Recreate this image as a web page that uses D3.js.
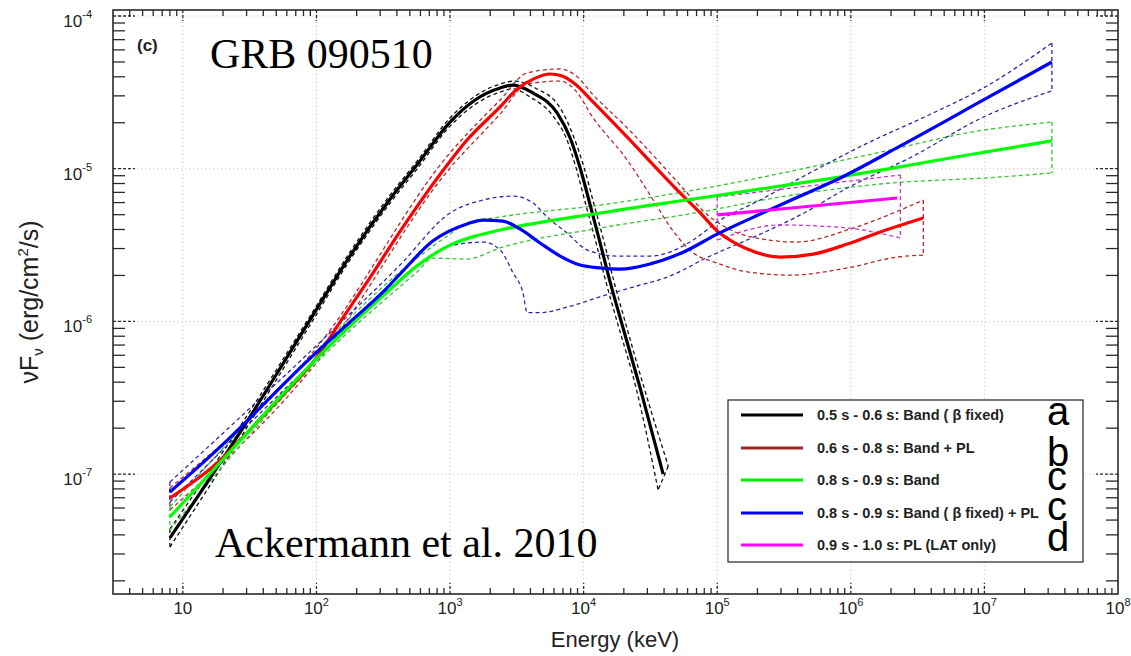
<!DOCTYPE html>
<html>
<head>
<meta charset="utf-8">
<script src="https://cdn.jsdelivr.net/npm/d3@7"></script>
<style>
  body { margin: 0; background: #fff; }
  svg { display: block; }
  .sans { font-family: "Liberation Sans", Arial, Helvetica, sans-serif; }
  .serif { font-family: "Liberation Serif", "Times New Roman", serif; }
</style>
</head>
<body>
<svg id="chart" width="1131" height="656"></svg>
<script>
// Axis limits (keV, erg/cm^2/s)
const xLimits = [3, 1e8];
const yLimits = [1.64e-8, 1.095e-4];
const xTickExponents = [1, 2, 3, 4, 5, 6, 7, 8];
const yTickExponents = [-7, -6, -5, -4];

// 0.5 s - 0.6 s : Band (beta fixed)
const blackE  = [8, 28.1, 89.4, 178, 356, 566, 1000, 1540, 2370, 2970, 4190, 6330, 7930, 9420, 11200, 13300, 15800, 18800, 26500, 39400];
const blackF  = [3.82e-8, 2.0e-7, 1.02e-6, 2.68e-6, 6.34e-6, 1.06e-5, 2.02e-5, 2.82e-5, 3.38e-5, 3.53e-5, 3.13e-5, 2.32e-5, 1.59e-5, 1.01e-5, 5.78e-6, 3.26e-6, 1.81e-6, 1.05e-6, 3.66e-7, 1.0e-7];
const blackUpE = [8, 28.1, 89.4, 178, 356, 566, 1000, 2370, 3070, 4340, 6670, 8490, 10100, 12000, 14300, 16900, 20100, 28400, 43000];
const blackUpF = [4.37e-8, 2.19e-7, 1.08e-6, 2.84e-6, 6.73e-6, 1.12e-5, 2.15e-5, 3.59e-5, 3.75e-5, 3.38e-5, 2.50e-5, 1.59e-5, 1.01e-5, 5.78e-6, 3.26e-6, 1.81e-6, 1.05e-6, 3.66e-7, 1.13e-7];
const blackLoE = [8, 28.1, 89.4, 178, 356, 566, 1000, 2370, 2970, 3970, 5910, 7400, 8790, 10400, 12400, 14700, 17500, 24700, 36100];
const blackLoF = [3.33e-8, 1.83e-7, 9.46e-7, 2.52e-6, 5.96e-6, 9.96e-6, 1.90e-5, 3.18e-5, 3.33e-5, 2.95e-5, 2.21e-5, 1.59e-5, 1.01e-5, 5.78e-6, 3.26e-6, 1.81e-6, 1.05e-6, 3.66e-7, 7.87e-8];

// 0.6 s - 0.8 s : Band + PL
const redE  = [8, 18, 31.8, 56.1, 101, 150, 239, 444, 1000, 1340, 2370, 3180, 4190, 5610, 6900, 8630, 11800, 21200, 33200, 50100, 74600, 1.0e5, 1.32e5, 1.68e5, 2.96e5, 5.24e5, 9.42e5, 1.66e6, 3.49e6];
const redF  = [6.97e-8, 1.18e-7, 1.95e-7, 3.30e-7, 5.85e-7, 9.9e-7, 1.81e-6, 4.15e-6, 1.12e-5, 1.54e-5, 2.54e-5, 3.33e-5, 3.86e-5, 4.17e-5, 4.05e-5, 3.59e-5, 2.73e-5, 1.61e-5, 1.06e-5, 7.26e-6, 5.13e-6, 3.91e-6, 3.31e-6, 2.98e-6, 2.64e-6, 2.76e-6, 3.21e-6, 3.85e-6, 4.75e-6];
const redUpE = [8, 101, 1000, 2370, 3780, 6670, 8630, 11800, 21200, 37400, 59600, 78500, 1.05e5, 1.68e5, 3.97e5, 9.42e5, 2.08e6, 3.49e6];
const redUpF = [8.11e-8, 6.79e-7, 1.27e-5, 2.82e-5, 4.24e-5, 4.50e-5, 4.11e-5, 3.04e-5, 1.85e-5, 1.09e-5, 6.93e-6, 5.28e-6, 4.35e-6, 3.62e-6, 3.31e-6, 3.97e-6, 5.13e-6, 6.24e-6];
const redLoE = [8, 101, 1000, 2370, 3780, 6670, 8630, 11800, 21200, 33200, 44500, 66100, 1.0e5, 1.68e5, 3.52e5, 9.42e5, 2.23e6, 3.49e6];
const redLoF = [5.82e-8, 5.42e-7, 1.01e-5, 2.28e-5, 3.59e-5, 3.75e-5, 3.27e-5, 2.15e-5, 1.14e-5, 6.24e-6, 4.15e-6, 2.81e-6, 2.41e-6, 2.11e-6, 2.01e-6, 2.24e-6, 2.64e-6, 2.72e-6];

// 0.8 s - 0.9 s : Band
const greenE  = [8, 18, 31.8, 56.1, 101, 178, 315, 566, 1000, 1540, 2370, 13300, 74600, 2.37e5, 7.40e5, 2.35e6, 7.46e6, 3.2e7];
const greenF  = [5.24e-8, 1.13e-7, 1.95e-7, 3.35e-7, 5.75e-7, 9.33e-7, 1.47e-6, 2.31e-6, 3.16e-6, 3.62e-6, 3.97e-6, 5.13e-6, 6.43e-6, 7.48e-6, 8.69e-6, 1.03e-5, 1.23e-5, 1.52e-5];
const greenUpE = [8, 101, 566, 1000, 1340, 2370, 13300, 74600, 1.33e6, 9.84e6, 3.2e7];
const greenUpF = [6.09e-8, 6.50e-7, 2.60e-6, 3.73e-6, 4.41e-6, 4.83e-6, 5.78e-6, 7.36e-6, 1.23e-5, 1.79e-5, 2.02e-5];
const greenLoE = [8, 101, 566, 746, 1340, 2370, 13300, 74600, 2.96e5, 1.66e6, 1.32e7, 3.2e7];
const greenLoF = [4.31e-8, 5.42e-7, 2.11e-6, 2.60e-6, 2.56e-6, 3.03e-6, 4.09e-6, 5.20e-6, 6.53e-6, 7.94e-6, 8.83e-6, 9.37e-6];

// 0.8 s - 0.9 s : Band (beta fixed) + PL
const blueE  = [8, 18, 31.8, 56.1, 101, 178, 315, 422, 746, 1340, 1770, 2490, 3340, 4720, 6670, 9420, 13300, 18800, 31500, 55600, 1.0e5, 2.10e5, 4.19e5, 8.34e5, 2.35e6, 9.84e6, 3.2e7];
const blueF  = [7.64e-8, 1.44e-7, 2.33e-7, 3.84e-7, 6.31e-7, 9.9e-7, 1.56e-6, 2.04e-6, 3.37e-6, 4.35e-6, 4.61e-6, 4.54e-6, 4.03e-6, 3.26e-6, 2.68e-6, 2.34e-6, 2.24e-6, 2.20e-6, 2.38e-6, 2.84e-6, 3.73e-6, 5.05e-6, 6.62e-6, 8.69e-6, 1.41e-5, 2.82e-5, 5.0e-5];
const blueUpE = [8, 101, 422, 1000, 1770, 2970, 4190, 5330, 7520, 10600, 17800, 31500, 66100, 1.0e5, 2.10e5, 4.19e5, 1.33e6, 4.15e6, 9.84e6, 3.2e7];
const blueUpF = [8.87e-8, 7.0e-7, 2.34e-6, 5.13e-6, 6.24e-6, 6.62e-6, 5.96e-6, 4.83e-6, 3.79e-6, 2.94e-6, 2.68e-6, 2.68e-6, 3.41e-6, 4.48e-6, 6.24e-6, 8.69e-6, 1.47e-5, 2.32e-5, 3.38e-5, 6.65e-5];
const blueLoE = [8, 101, 422, 1000, 1770, 2370, 2970, 3520, 3780, 4720, 7520, 13300, 23500, 42200, 88700, 2.10e5, 4.19e5, 9.42e5, 2.94e6, 9.84e6, 3.2e7];
const blueLoF = [6.56e-8, 5.75e-7, 1.87e-6, 3.12e-6, 3.31e-6, 2.94e-6, 2.07e-6, 1.53e-6, 1.14e-6, 1.14e-6, 1.24e-6, 1.45e-6, 1.68e-6, 1.95e-6, 2.68e-6, 3.73e-6, 4.98e-6, 7.48e-6, 1.21e-5, 2.18e-5, 3.23e-5];

// 0.9 s - 1.0 s : PL (LAT only)
const magentaE  = [1.0e5, 2.23e6];
const magentaF  = [4.98e-6, 6.43e-6];
const magentaUpE = [1.0e5, 2.35e6];
const magentaUpF = [6.53e-6, 9.1e-6];
const magentaLoE = [1.0e5, 2.96e5, 9.42e5, 2.35e6];
const magentaLoF = [3.41e-6, 4.28e-6, 4.09e-6, 3.52e-6];

const legendLabels = [
  "0.5 s - 0.6 s: Band ( \u03B2 fixed)",
  "0.6 s - 0.8 s: Band + PL",
  "0.8 s - 0.9 s: Band",
  "0.8 s - 0.9 s: Band ( \u03B2 fixed) + PL",
  "0.9 s - 1.0 s: PL (LAT only)"
];
const panelLetters = ["a", "b", "c", "c", "d"];

const zip = (E, F) => E.map((e, i) => [e, F[i]]);

const series = [
  { label: legendLabels[0], color: "#000000", dashColor: "#111111", legendColor: "#000000",
    main: zip(blackE, blackF), up: zip(blackUpE, blackUpF), lo: zip(blackLoE, blackLoF) },
  { label: legendLabels[1], color: "#ff0000", dashColor: "#b8282a", legendColor: "#9e2a2a",
    main: zip(redE, redF), up: zip(redUpE, redUpF), lo: zip(redLoE, redLoF) },
  { label: legendLabels[2], color: "#00ff00", dashColor: "#35c435", legendColor: "#00f000",
    main: zip(greenE, greenF), up: zip(greenUpE, greenUpF), lo: zip(greenLoE, greenLoF) },
  { label: legendLabels[3], color: "#0000ff", dashColor: "#2e2aa8", legendColor: "#0000ff",
    main: zip(blueE, blueF), up: zip(blueUpE, blueUpF), lo: zip(blueLoE, blueLoF) },
  { label: legendLabels[4], color: "#ff00ff", dashColor: "#c936c9", legendColor: "#ff00ff",
    main: zip(magentaE, magentaF), up: zip(magentaUpE, magentaUpF), lo: zip(magentaLoE, magentaLoF) }
];

const svg = d3.select("#chart");
const frame = { left: 113, right: 1118, top: 10, bottom: 594 };

const x = d3.scaleLog().domain(xLimits).range([frame.left, frame.right]);
const y = d3.scaleLog().domain(yLimits).range([frame.bottom, frame.top]);

svg.append("rect").attr("width", 1131).attr("height", 656).attr("fill", "#fff");

svg.append("defs").append("clipPath").attr("id", "plot-clip")
  .append("rect")
  .attr("x", frame.left).attr("y", frame.top)
  .attr("width", frame.right - frame.left).attr("height", frame.bottom - frame.top);

// dotted grid at the decades
const grid = svg.append("g").attr("stroke", "#bcbcbc").attr("stroke-width", 1).attr("stroke-dasharray", "1,3");
grid.selectAll("line.gx").data(xTickExponents.filter(e => e < 8).map(e => Math.pow(10, e))).join("line")
  .attr("class", "gx")
  .attr("x1", d => x(d)).attr("x2", d => x(d))
  .attr("y1", frame.top).attr("y2", frame.bottom);
grid.selectAll("line.gy").data(yTickExponents.map(e => Math.pow(10, e))).join("line")
  .attr("class", "gy")
  .attr("x1", frame.left).attr("x2", frame.right)
  .attr("y1", d => y(d)).attr("y2", d => y(d));

// tick marks (inward on all four sides)
const isDecade = v => Math.abs(Math.log10(v) - Math.round(Math.log10(v))) < 1e-9;
const xMinor = x.ticks(40).filter(v => !isDecade(v) && v > xLimits[0] && v < xLimits[1]);
const yMinor = y.ticks(40).filter(v => !isDecade(v) && v > yLimits[0] && v < yLimits[1]);
const xMajor = xTickExponents.filter(e => e < 8).map(e => Math.pow(10, e));
const yMajor = yTickExponents.map(e => Math.pow(10, e));

const ticks = svg.append("g").attr("stroke", "#2a2a2a").attr("stroke-width", 1.3);
[[frame.bottom, -1], [frame.top, 1]].forEach(([y0, dir]) => {
  ticks.append("g").selectAll("line").data(xMinor).join("line")
    .attr("x1", d => x(d)).attr("x2", d => x(d))
    .attr("y1", y0).attr("y2", y0 + dir * 6);
  ticks.append("g").attr("stroke-dasharray", "3,2").selectAll("line").data(xMajor).join("line")
    .attr("x1", d => x(d)).attr("x2", d => x(d))
    .attr("y1", y0).attr("y2", y0 + dir * 11);
});
[[frame.left, 1], [frame.right, -1]].forEach(([x0, dir]) => {
  ticks.append("g").selectAll("line").data(yMinor).join("line")
    .attr("y1", d => y(d)).attr("y2", d => y(d))
    .attr("x1", x0).attr("x2", x0 + dir * 12);
  ticks.append("g").attr("stroke-dasharray", "3,2").selectAll("line").data(yMajor).join("line")
    .attr("y1", d => y(d)).attr("y2", d => y(d))
    .attr("x1", x0).attr("x2", x0 + dir * 22);
});

// spectra: dashed error contours, then best-fit curves
const curve = d3.line().x(d => x(d[0])).y(d => y(d[1])).curve(d3.curveMonotoneX);
const straight = d3.line().x(d => x(d[0])).y(d => y(d[1]));
const plot = svg.append("g").attr("clip-path", "url(#plot-clip)");

series.forEach(s => {
  const g = plot.append("g")
    .attr("fill", "none").attr("stroke", s.dashColor)
    .attr("stroke-width", 1.3).attr("stroke-dasharray", "4,3");
  g.append("path").attr("d", curve(s.up));
  g.append("path").attr("d", curve(s.lo));
  g.append("path").attr("d", straight([s.up[0], s.lo[0]]));
  g.append("path").attr("d", straight([s.up[s.up.length - 1], s.lo[s.lo.length - 1]]));
});

series.forEach(s => {
  plot.append("path")
    .attr("d", curve(s.main))
    .attr("fill", "none")
    .attr("stroke", s.color)
    .attr("stroke-width", 3.2)
    .attr("stroke-linejoin", "round");
});

// axes frame
svg.append("rect")
  .attr("x", frame.left).attr("y", frame.top)
  .attr("width", frame.right - frame.left).attr("height", frame.bottom - frame.top)
  .attr("fill", "none").attr("stroke", "#2a2a2a").attr("stroke-width", 1.6);

// tick labels
const xLab = svg.append("g").attr("class", "sans").attr("fill", "#222").attr("font-size", 17).attr("text-anchor", "middle");
xTickExponents.forEach(e => {
  const t = xLab.append("text").attr("x", x(Math.pow(10, e))).attr("y", 614);
  t.append("tspan").text("10");
  if (e !== 1) t.append("tspan").attr("font-size", 11).attr("dy", -8).text(e);
});
const yLab = svg.append("g").attr("class", "sans").attr("fill", "#222").attr("font-size", 17).attr("text-anchor", "end");
yTickExponents.forEach(e => {
  const t = yLab.append("text").attr("x", 92).attr("y", y(Math.pow(10, e)) + 11);
  t.append("tspan").text("10");
  t.append("tspan").attr("font-size", 11).attr("dy", -9).text(e);
});

// axis titles
svg.append("text").attr("class", "sans")
  .attr("x", 615).attr("y", 647).attr("text-anchor", "middle")
  .attr("font-size", 22).attr("fill", "#222")
  .text("Energy (keV)");

const yTitle = svg.append("text").attr("class", "sans")
  .attr("transform", "translate(38,302) rotate(-90)")
  .attr("text-anchor", "middle").attr("font-size", 25).attr("fill", "#222");
yTitle.append("tspan").text("\u03BDF");
yTitle.append("tspan").attr("font-size", 15).attr("dy", 5).text("\u03BD");
yTitle.append("tspan").attr("dy", -5).text(" (erg/cm");
yTitle.append("tspan").attr("font-size", 15).attr("dy", -10).text("2");
yTitle.append("tspan").attr("dy", 10).text("/s)");

// panel tag and annotations
svg.append("text").attr("class", "sans").attr("x", 137).attr("y", 51)
  .attr("font-size", 17).attr("font-weight", "bold").attr("fill", "#222").text("(c)");
svg.append("text").attr("class", "serif").attr("x", 210).attr("y", 68)
  .attr("font-size", 42).attr("fill", "#000").text("GRB 090510");
svg.append("text").attr("class", "serif").attr("x", 215).attr("y", 557)
  .attr("font-size", 42).attr("fill", "#000").text("Ackermann et al. 2010");

// legend
const legend = svg.append("g");
legend.append("rect").attr("x", 728).attr("y", 400).attr("width", 355).attr("height", 162)
  .attr("fill", "#fff").attr("stroke", "#222").attr("stroke-width", 1.2);
const rowY = [415, 448, 480, 513, 545];
series.forEach((s, i) => {
  legend.append("line").attr("x1", 741).attr("x2", 803).attr("y1", rowY[i]).attr("y2", rowY[i])
    .attr("stroke", s.legendColor).attr("stroke-width", 3);
  legend.append("text").attr("class", "sans").attr("x", 817).attr("y", rowY[i] + 5)
    .attr("font-size", 14.5).attr("font-weight", "bold").attr("fill", "#222").text(s.label);
});

// stacked panel letters, one column of text
const letterY = [425, 466, 490, 520, 551];
const letterCol = svg.append("text").attr("class", "sans").attr("font-size", 40).attr("fill", "#000");
panelLetters.forEach((c, i) => {
  letterCol.append("tspan").attr("x", 1047).attr("y", letterY[i]).text(c);
});
</script>
</body>
</html>
